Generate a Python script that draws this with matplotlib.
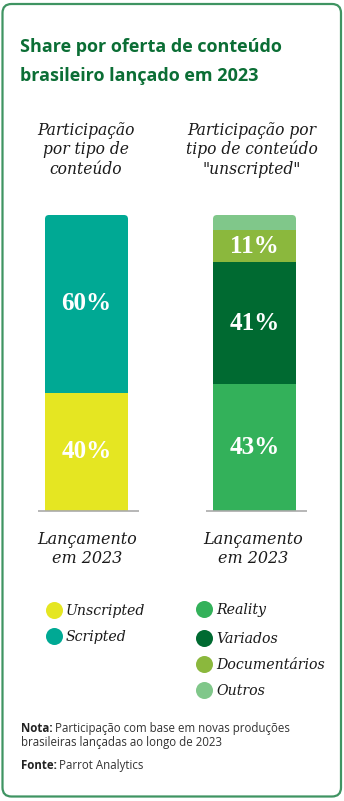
import matplotlib
matplotlib.use("Agg")
import matplotlib.pyplot as plt
from matplotlib.patches import FancyBboxPatch

# data
groups = ["Participação\npor tipo de\nconteúdo", "Participação por\ntipo de conteúdo\n\"unscripted\""]
left_names = ["Unscripted", "Scripted"]
left_values = [40, 60]
left_colors = ["#e5e622", "#00a994"]
right_names = ["Reality", "Variados", "Documentários", "Outros"]
right_values = [43, 41, 11, 5]
right_colors = ["#33b15a", "#006a31", "#8bb83d", "#80c78a"]
x_label = "Lançamento\nem 2023"

W, H = 344, 801
fig = plt.figure(figsize=(W / 100, H / 100), dpi=100)

# background overlay in pixel coords
bg = fig.add_axes([0, 0, 1, 1])
bg.set_xlim(0, W)
bg.set_ylim(H, 0)
bg.axis("off")

card = FancyBboxPatch((2.5, 4), 338.5, 792.5, boxstyle="round,pad=0,rounding_size=9",
                      facecolor="white", edgecolor="#3f9462", linewidth=1.6)
bg.add_patch(card)

green = "#0b6e35"
bg.text(20, 52, "Share por oferta de conteúdo", fontsize=13, fontweight="bold",
        family="Open Sans", color=green, va="baseline")
bg.text(20, 81, "brasileiro lançado em 2023", fontsize=13, fontweight="bold",
        family="Open Sans", color=green, va="baseline")

serif = "DejaVu Serif"
centers = [86, 252]
for cx, g in zip(centers, groups):
    for i, line in enumerate(g.split("\n")):
        bg.text(cx, 135 + i * 19.5, line, fontsize=11.2, style="italic", family=serif,
                color="#1a1a1a", ha="center", va="baseline")
    for i, line in enumerate(x_label.split("\n")):
        bg.text(cx + 1, 544 + i * 19, line, fontsize=11.5, style="italic", family=serif,
                color="#1a1a1a", ha="center", va="baseline")

# bars
px_unit = 168.0
ax = fig.add_axes([20 / W, (H - 511) / H, 300 / W, (511 - 215) / H])
ax.set_xlim((20 - 86.5) / px_unit, (320 - 86.5) / px_unit)
ax.set_ylim(0, 100)
ax.axis("off")
bw = 83 / px_unit

for pos, vals, cols in [(0, left_values, left_colors), (1, right_values, right_colors)]:
    clip = FancyBboxPatch((pos - bw / 2, -20), bw, sum(vals) + 20,
                          boxstyle="round,pad=0,rounding_size=%f" % (4 / px_unit),
                          mutation_aspect=(296 / 100) ** -1 * px_unit,
                          transform=ax.transData)
    bottom = 0
    for v, c in zip(vals, cols):
        bars = ax.bar(pos, v, bw, bottom=bottom, color=c, linewidth=0)
        for b in bars:
            b.set_clip_path(clip)
        if v >= 10:
            ax.text(pos, bottom + v / 2, f"{v}%", ha="center", va="center", color="white",
                    fontsize=18, fontweight="bold", family="Liberation Serif")
        bottom += v
    ax.hlines(0, pos - 0.29, pos + 0.31, color="#aaaaaa", linewidth=1.2, clip_on=False)

# legends
def legend(x, ys, names, colors):
    for y, n, c in zip(ys, names, colors):
        bg.scatter([x], [y], s=150, color=c, linewidths=0, zorder=3)
        bg.text(x + 12, y + 1, n, fontsize=10.2, style="italic", family=serif,
                color="#1a1a1a", va="center")

legend(54, [610, 636], left_names, left_colors)
legend(204, [609, 638, 664, 690], right_names, right_colors)

# notes
r = fig.canvas.get_renderer()
def note(y, bold, rest):
    t = bg.text(21, y, bold, fontsize=8.3, fontweight="bold", family="Open Sans",
                color="#222222", va="baseline")
    bb = t.get_window_extent(renderer=r)
    bg.text(bb.x1 + 2.5, y, rest, fontsize=8.3, family="Open Sans",
            color="#333333", va="baseline")

note(732, "Nota:", "Participação com base em novas produções")
bg.text(21, 746, "brasileiras lançadas ao longo de 2023", fontsize=8.3, family="Open Sans",
        color="#333333", va="baseline")
note(769, "Fonte:", "Parrot Analytics")

fig.savefig("out.png", dpi=100)
